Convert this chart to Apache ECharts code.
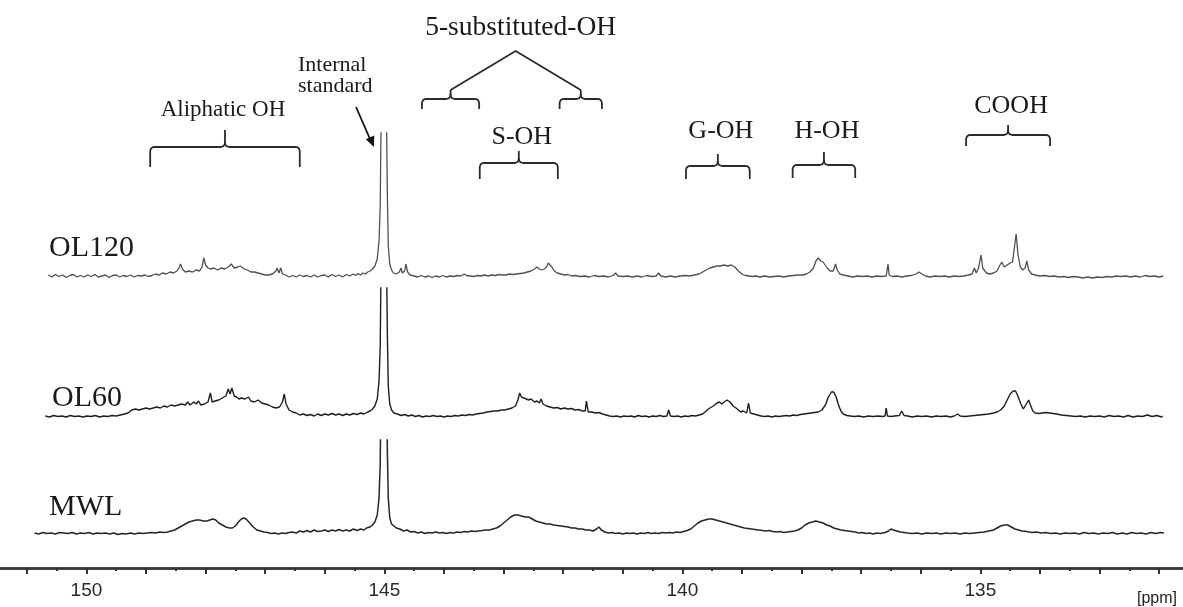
<!DOCTYPE html>
<html><head><meta charset="utf-8">
<script src="https://cdn.jsdelivr.net/npm/echarts@6/dist/echarts.min.js"></script>
<style>html,body{margin:0;padding:0;background:#fff}#c{width:1183px;height:607px}</style>
</head><body><div id="c"></div>
<script>
// ---- data: [ppm, intensity above baseline] ----
const seriesNames = ['OL120', 'OL60', 'MWL'];
const tickLabels = [150, 145, 140, 135];

const ol120 = [
[150.64,1],[150.58,-1],[150.52,1.5],[150.46,-0.5],[150.40,1],[150.34,-1.5],[150.28,0.5],[150.22,1.5],[150.16,-1],[150.10,0.5],[150.04,-1],[149.98,1],[149.92,-0.5],[149.86,1.5],[149.80,-1],[149.74,0],[149.68,1],[149.62,-1.5],[149.56,0.5],[149.50,1],[149.44,-1],[149.38,0.5],[149.32,-0.5],[149.26,1],[149.20,-1],[149.14,0.5],[149.08,0],[149.02,1],[148.96,-0.5],[148.90,0.5],[148.84,2],[148.78,1],[148.72,3],[148.66,2],[148.60,4],[148.54,3],[148.48,5],[148.44,9],[148.42,12],[148.39,7],[148.34,4],[148.28,5],[148.22,4],[148.16,6],[148.10,5],[148.06,9],[148.03,18],[148.00,11],[147.96,8],[147.92,7],[147.86,8],[147.80,6],[147.74,8],[147.68,7],[147.62,9],[147.57,12],[147.52,8],[147.46,9],[147.42,10],[147.39,12],[147.35,7],[147.30,6],[147.24,4],[147.18,4],[147.12,3],[147.06,2],[147.00,1],[146.94,1],[146.88,2],[146.82,5],[146.80,8],[146.77,3],[146.74,8],[146.71,2],[146.66,1],[146.60,-1],[146.54,0.5],[146.48,-1],[146.42,1],[146.36,-0.5],[146.30,0.5],[146.24,-1],[146.18,1],[146.12,-1],[146.06,0.5],[146.00,1],[145.94,-1],[145.88,1.5],[145.82,-0.5],[145.76,1],[145.70,-1],[145.64,1.5],[145.58,0],[145.52,2],[145.48,0.5],[145.44,2.5],[145.40,1],[145.36,3],[145.32,2],[145.28,4],[145.24,5],[145.20,7],[145.16,10],[145.12,17],[145.09,35],[145.07,70],[145.055,160],[145.05,300],[145.01,900],[144.97,300],[144.965,160],[144.95,80],[144.935,30],[144.91,12],[144.88,6],[144.85,3],[144.80,2],[144.75,4],[144.72,8],[144.70,3],[144.66,5],[144.64,12],[144.61,4],[144.57,1],[144.50,0],[144.44,-1],[144.38,0.5],[144.32,-1],[144.26,0],[144.20,-1.5],[144.14,0],[144.08,-1],[144.02,0.5],[143.96,-1],[143.90,0],[143.84,-0.5],[143.78,0.5],[143.72,0],[143.66,2],[143.62,0.5],[143.56,0],[143.50,-0.5],[143.44,0.5],[143.38,0],[143.32,1],[143.26,0],[143.20,1],[143.14,0.5],[143.08,1.5],[143.02,1],[142.96,1],[142.90,2],[142.84,1.5],[142.78,2],[142.72,2.5],[142.66,3],[142.60,4],[142.54,5],[142.48,7],[142.44,9],[142.40,7],[142.36,6],[142.32,7],[142.28,9],[142.25,13],[142.22,15],[142.19,9],[142.15,5],[142.10,3],[142.04,2],[141.98,1],[141.92,1.5],[141.86,0],[141.80,0.5],[141.72,-0.5],[141.64,0],[141.56,-1],[141.48,0.5],[141.40,-0.5],[141.32,0],[141.24,-1],[141.16,0.5],[141.12,3],[141.08,0],[141.00,-0.5],[140.92,0],[140.84,-1],[140.76,0],[140.68,-1],[140.60,0.5],[140.52,-0.5],[140.44,0],[140.40,3],[140.36,0],[140.28,-1],[140.20,0],[140.12,-1],[140.04,0],[139.96,0.5],[139.88,0],[139.80,1],[139.72,2],[139.66,4],[139.60,6],[139.54,8],[139.48,9],[139.42,10],[139.36,10],[139.30,11],[139.24,10],[139.18,11],[139.12,9],[139.06,5],[139.00,2],[138.94,0.5],[138.88,0],[138.82,-0.5],[138.76,0],[138.70,-1],[138.62,0],[138.54,-1],[138.46,-0.5],[138.38,0],[138.30,-1],[138.22,0],[138.14,0.5],[138.06,1],[137.98,1],[137.92,2],[137.86,4],[137.80,8],[137.76,15],[137.72,18],[137.68,15],[137.64,14],[137.61,15],[137.57,8],[137.52,5],[137.47,5],[137.43,12],[137.40,6],[137.36,2],[137.30,1],[137.22,0],[137.14,-1],[137.06,0],[136.98,-0.5],[136.90,0],[136.82,-1],[136.74,0],[136.66,-0.5],[136.58,0],[136.55,12],[136.53,1],[136.48,-0.5],[136.40,0],[136.32,-1],[136.24,0],[136.16,0.5],[136.08,2],[136.03,4],[135.98,2],[135.92,0],[135.84,-1],[135.76,0],[135.68,-0.5],[135.60,0],[135.52,-1],[135.44,0],[135.36,-0.5],[135.28,0],[135.20,1],[135.14,2],[135.10,8],[135.07,3],[135.03,8],[134.99,21],[134.96,8],[134.90,3],[134.84,2],[134.78,3],[134.72,5],[134.68,10],[134.64,14],[134.60,9],[134.55,11],[134.50,13],[134.46,14],[134.43,28],[134.40,42],[134.37,22],[134.33,9],[134.29,6],[134.25,8],[134.22,15],[134.19,6],[134.14,2],[134.08,1],[134.00,0],[133.92,0.5],[133.84,-0.5],[133.76,0],[133.68,-1],[133.60,-0.5],[133.52,-1.5],[133.44,-0.5],[133.36,-1],[133.28,-2],[133.20,-1],[133.12,-2],[133.04,-1],[132.96,-1.5],[132.88,-0.5],[132.80,-1],[132.72,0],[132.64,-0.5],[132.56,0],[132.48,-1],[132.40,0],[132.32,-1],[132.24,0.5],[132.16,-0.5],[132.08,0],[132.00,-1],[131.93,0]
];

const ol60 = [
[150.69,0],[150.62,-1],[150.55,0.5],[150.48,-0.5],[150.41,0],[150.34,-1],[150.27,0.5],[150.20,-0.5],[150.13,0],[150.06,-1],[149.99,0],[149.92,-0.5],[149.85,0.5],[149.78,-1],[149.71,0],[149.64,-0.5],[149.57,0.5],[149.50,0],[149.43,1],[149.36,2],[149.30,3],[149.24,6],[149.18,7],[149.12,6],[149.06,7],[149.00,8],[148.94,7],[148.88,8],[148.82,9],[148.76,8],[148.70,10],[148.64,9],[148.58,11],[148.52,10],[148.46,11],[148.40,12],[148.34,11],[148.30,14],[148.26,11],[148.20,14],[148.16,12],[148.12,15],[148.08,11],[148.02,12],[147.96,14],[147.92,23],[147.89,14],[147.84,15],[147.78,16],[147.72,18],[147.66,20],[147.62,27],[147.59,22],[147.56,28],[147.52,20],[147.48,19],[147.44,17],[147.40,18],[147.34,17],[147.28,19],[147.24,15],[147.18,14],[147.12,16],[147.06,13],[147.00,12],[146.94,11],[146.88,9],[146.82,8],[146.76,9],[146.71,14],[146.68,22],[146.65,12],[146.60,6],[146.54,4],[146.48,3],[146.42,1],[146.36,2],[146.30,0.5],[146.24,1.5],[146.18,0],[146.12,2],[146.06,0.5],[146.00,2],[145.94,1],[145.88,2.5],[145.82,1],[145.76,2],[145.70,0.5],[145.64,2],[145.58,1],[145.52,2.5],[145.46,1.5],[145.40,3],[145.34,2],[145.28,4],[145.24,5],[145.20,7],[145.16,10],[145.12,17],[145.09,35],[145.07,70],[145.055,160],[145.05,300],[145.01,900],[144.97,300],[144.965,160],[144.95,80],[144.935,30],[144.91,12],[144.88,6],[144.84,3],[144.78,2],[144.72,0.5],[144.66,1.5],[144.60,0],[144.54,1],[144.48,-0.5],[144.42,0.5],[144.36,-1],[144.30,0],[144.24,-0.5],[144.18,0.5],[144.12,-0.5],[144.06,0],[144.00,-1],[143.94,0],[143.88,-0.5],[143.82,0.5],[143.76,0],[143.70,1],[143.64,0.5],[143.58,1.5],[143.52,1],[143.46,2],[143.40,2.5],[143.34,3],[143.28,4],[143.22,4.5],[143.16,5],[143.10,5],[143.04,6],[142.98,6],[142.92,7],[142.86,8],[142.80,10],[142.76,16],[142.73,23],[142.70,19],[142.66,18],[142.62,17],[142.58,16],[142.54,17],[142.48,14],[142.44,15],[142.40,13],[142.37,17],[142.34,12],[142.28,10],[142.22,9],[142.16,8],[142.10,8.5],[142.04,7],[141.98,8],[141.92,7],[141.86,7.5],[141.80,6],[141.74,6.5],[141.68,5],[141.63,5],[141.61,15],[141.58,4],[141.52,4],[141.46,3],[141.40,3.5],[141.34,2],[141.28,1],[141.22,0],[141.16,-0.5],[141.10,0],[141.04,-1],[140.98,0],[140.92,-0.5],[140.86,0],[140.80,-1],[140.74,0.5],[140.68,-0.5],[140.62,0],[140.56,-1],[140.50,0],[140.44,-0.5],[140.38,0.5],[140.32,-0.5],[140.26,0],[140.23,6],[140.20,0],[140.14,-0.5],[140.08,0],[140.02,-1],[139.96,0],[139.90,-0.5],[139.84,0.5],[139.78,0],[139.72,1],[139.66,2],[139.60,5],[139.54,8],[139.48,10],[139.42,13],[139.38,14],[139.34,12],[139.30,14],[139.25,16],[139.20,14],[139.15,10],[139.10,8],[139.06,6],[139.02,4],[138.98,5],[138.92,3],[138.89,13],[138.86,3],[138.80,2],[138.74,1],[138.68,0],[138.62,-0.5],[138.56,0],[138.50,-1],[138.44,0],[138.38,-0.5],[138.32,0],[138.26,0.5],[138.20,0],[138.14,1],[138.08,0.5],[138.02,1.5],[137.96,2],[137.90,2.5],[137.84,3],[137.78,3.5],[137.72,4],[137.66,6],[137.60,11],[137.55,19],[137.50,24],[137.46,24],[137.42,19],[137.38,11],[137.34,5],[137.30,2],[137.24,0.5],[137.18,0],[137.12,-0.5],[137.04,0],[136.96,-1],[136.88,0],[136.80,-0.5],[136.72,0],[136.64,-0.5],[136.60,0],[136.58,8],[136.56,0],[136.50,-0.5],[136.44,0],[136.36,0.5],[136.32,5],[136.28,0.5],[136.22,0],[136.14,-1],[136.06,0],[135.98,-0.5],[135.90,0],[135.82,-1],[135.74,0],[135.66,-0.5],[135.58,0],[135.50,-1],[135.44,0],[135.38,2],[135.34,0],[135.26,-0.5],[135.18,0],[135.10,0.5],[135.02,1],[134.94,1.5],[134.86,2],[134.78,3],[134.72,4],[134.66,6],[134.60,10],[134.55,16],[134.50,22],[134.45,25],[134.41,25],[134.37,20],[134.32,12],[134.28,7],[134.25,7],[134.22,13],[134.19,16],[134.16,11],[134.12,5],[134.08,3],[134.02,2.5],[133.96,3],[133.90,3.5],[133.84,3],[133.78,2.5],[133.72,2],[133.64,1],[133.56,0.5],[133.48,0],[133.40,-0.5],[133.32,0],[133.24,-1],[133.16,0],[133.08,-0.5],[133.00,0],[132.92,-1],[132.84,0.5],[132.76,-0.5],[132.68,0],[132.60,-1],[132.52,0.5],[132.44,-1],[132.36,0],[132.28,-0.5],[132.20,1],[132.12,-0.5],[132.04,0.5],[131.96,-1],[131.94,0]
];

const mwl = [
[150.87,0],[150.80,-1],[150.73,0.5],[150.66,-0.5],[150.59,0],[150.52,-1],[150.45,0.5],[150.38,0],[150.31,-0.5],[150.24,0.5],[150.17,-1],[150.10,0],[150.03,-0.5],[149.96,0.5],[149.89,-1],[149.82,0],[149.75,-0.5],[149.68,0],[149.61,-1],[149.54,0],[149.47,-1.5],[149.40,-0.5],[149.33,-1],[149.26,0],[149.19,-1],[149.12,0],[149.05,-0.5],[148.98,0],[148.91,0.5],[148.84,0],[148.77,1],[148.70,0.5],[148.64,1],[148.58,2],[148.52,3],[148.46,5],[148.40,7],[148.34,9],[148.28,11],[148.22,12],[148.16,13],[148.10,13],[148.04,12],[147.98,12],[147.93,13],[147.88,14],[147.83,13],[147.78,10],[147.72,8],[147.66,6],[147.60,5],[147.55,5],[147.50,7],[147.45,11],[147.40,14],[147.36,15],[147.32,14],[147.26,10],[147.20,6],[147.14,3],[147.08,2],[147.02,1],[146.96,0.5],[146.90,-0.5],[146.84,0],[146.78,-1],[146.72,0],[146.66,-0.5],[146.60,0.5],[146.54,1],[146.48,0],[146.42,2],[146.36,1],[146.30,2.5],[146.24,1],[146.18,3],[146.12,1.5],[146.06,2],[146.00,3],[145.94,1.5],[145.88,3],[145.82,2],[145.76,3.5],[145.70,2],[145.64,3],[145.58,2],[145.52,4],[145.46,2.5],[145.40,4],[145.34,3],[145.30,5],[145.24,6],[145.20,8],[145.16,11],[145.12,18],[145.09,35],[145.07,70],[145.055,160],[145.05,300],[145.01,900],[144.97,300],[144.965,160],[144.95,80],[144.935,35],[144.91,15],[144.88,9],[144.85,7],[144.80,5],[144.74,4],[144.68,2],[144.62,3],[144.56,1],[144.50,1.5],[144.44,0],[144.38,1],[144.32,-0.5],[144.26,0.5],[144.20,0],[144.14,1],[144.08,0],[144.02,0.5],[143.96,-0.5],[143.90,0.5],[143.84,0],[143.78,1],[143.72,0.5],[143.66,1.5],[143.60,1],[143.54,2],[143.48,1.5],[143.42,2],[143.36,2.5],[143.30,3],[143.24,3],[143.18,4],[143.12,5],[143.06,7],[143.00,10],[142.94,13],[142.88,16],[142.82,18],[142.76,18],[142.70,17],[142.64,16],[142.58,16],[142.52,14],[142.46,12],[142.40,11],[142.34,10],[142.28,9],[142.22,9],[142.16,8],[142.10,7.5],[142.04,7],[141.98,6.5],[141.92,6],[141.86,5],[141.80,5],[141.74,4],[141.68,4],[141.62,3],[141.56,3],[141.50,2],[141.44,4],[141.40,6],[141.36,3],[141.30,1],[141.24,0],[141.18,0.5],[141.12,-0.5],[141.06,0],[141.00,-1],[140.94,0],[140.88,-0.5],[140.82,0],[140.76,-1],[140.70,0],[140.64,-0.5],[140.58,0.5],[140.52,-0.5],[140.46,0],[140.40,-0.5],[140.34,0.5],[140.28,0],[140.22,0.5],[140.16,0],[140.10,1],[140.04,0.5],[139.98,1.5],[139.92,2.5],[139.86,4],[139.80,7],[139.74,10],[139.68,12],[139.62,13],[139.56,14],[139.50,14],[139.44,13],[139.38,12],[139.32,11],[139.26,10],[139.20,9],[139.14,8],[139.08,7],[139.02,6],[138.96,5],[138.90,4.5],[138.84,4],[138.78,3.5],[138.72,3],[138.66,2.5],[138.60,2],[138.54,2.5],[138.48,1.5],[138.42,1],[138.36,1.5],[138.30,0.5],[138.24,1],[138.18,1.5],[138.12,2],[138.06,3],[138.00,5],[137.94,8],[137.88,10],[137.82,11],[137.76,12],[137.70,11],[137.64,10],[137.58,8],[137.52,7],[137.46,5],[137.40,4],[137.34,3],[137.28,2.5],[137.22,2],[137.16,1.5],[137.10,1],[137.04,0],[136.98,0.5],[136.92,-0.5],[136.86,0],[136.80,-1],[136.74,0],[136.68,-0.5],[136.60,0.5],[136.54,2],[136.50,4],[136.46,3],[136.40,2],[136.34,1],[136.28,0.5],[136.22,0],[136.14,-0.5],[136.06,0],[135.98,-1],[135.90,0],[135.82,-0.5],[135.74,0],[135.66,-1],[135.58,0],[135.50,-0.5],[135.42,0],[135.34,-1],[135.26,0],[135.18,-0.5],[135.10,0],[135.02,0.5],[134.94,1],[134.86,2],[134.78,3],[134.72,5],[134.66,7],[134.60,8],[134.54,8],[134.48,6],[134.42,4],[134.36,3],[134.30,2],[134.22,1.5],[134.14,0.5],[134.06,1],[133.98,0],[133.90,0.5],[133.82,-0.5],[133.74,0],[133.66,-1],[133.58,0],[133.50,-0.5],[133.42,0],[133.34,-1],[133.26,0.5],[133.18,-0.5],[133.10,0],[133.02,-1],[132.94,0],[132.86,-0.5],[132.78,0.5],[132.70,-1],[132.62,0],[132.54,-1],[132.46,0.5],[132.38,-0.5],[132.30,0],[132.22,-1],[132.14,0.5],[132.06,-0.5],[131.98,0.5],[131.92,0]
];

// region annotations: label, from ppm, to ppm
const regionNames = ['Aliphatic OH', 'S-OH', 'G-OH', 'H-OH', 'COOH'];
const regionFrom  = [148.93, 143.40, 139.94, 138.15, 135.24];
const regionTo    = [146.42, 142.09, 138.87, 137.10, 133.83];
const subFrom = [144.37, 142.06];
const subTo   = [143.41, 141.35];

// ---- layout ----
const XMIN = 131.60, XMAX = 151.45;
const majorTicks = [], minorTicks = [];
for (let v = 132; v <= 151; v++) majorTicks.push(v);
for (let v = 131; v <= 151; v++) minorTicks.push(v + 0.5);

const panels = [
  {top: 133, base: 276, bottom: 300},
  {top: 288, base: 416, bottom: 440},
  {top: 440, base: 533, bottom: 568}
];
const colors = ['#505050', '#1e1e1e', '#262626'];
const widths = [1.3, 1.4, 1.5];
const datasets = [ol120, ol60, mwl];

const chart = echarts.init(document.getElementById('c'), null, {renderer: 'canvas'});
const grids = [], xAxes = [], yAxes = [], series = [];
panels.forEach((p, i) => {
  grids.push({left: 0, right: 0, top: p.top, height: p.bottom - p.top});
  xAxes.push({
    type: 'value', gridIndex: i, min: XMIN, max: XMAX, inverse: true,
    show: i === 2,
    axisLine: {show: true, onZero: false, lineStyle: {color: '#3a3a3a', width: 2.5}},
    axisTick: {show: true, customValues: majorTicks, length: 6, lineStyle: {color: '#333', width: 2}},
    axisLabel: {show: true, customValues: tickLabels, fontSize: 19, color: '#2a2a2a', margin: 13, fontFamily: 'Liberation Sans'},
    splitLine: {show: false}
  });
  yAxes.push({type: 'value', gridIndex: i, min: -(p.bottom - p.base), max: p.base - p.top, show: false, splitLine: {show: false}});
  series.push({
    name: seriesNames[i], type: 'line', xAxisIndex: i, yAxisIndex: i,
    data: datasets[i], showSymbol: false, symbol: 'none', clip: true, smooth: false,
    lineStyle: {color: colors[i], width: widths[i]}, silent: true
  });
});
// minor ticks (second axis on the bottom panel)
xAxes.push({
  type: 'value', gridIndex: 2, min: XMIN, max: XMAX, inverse: true, position: 'bottom',
  axisLine: {show: true, onZero: false, lineStyle: {color: '#3a3a3a', width: 2.5}},
  axisTick: {show: true, customValues: minorTicks, length: 3, lineStyle: {color: '#333', width: 2}},
  axisLabel: {show: true, customValues: [], color: 'rgba(0,0,0,0)'}, splitLine: {show: false}
});

chart.setOption({
  animation: false,
  backgroundColor: '#fff',
  grid: grids, xAxis: xAxes, yAxis: yAxes, series: series
});

// ---- annotations ----
const X = p => chart.convertToPixel({xAxisIndex: 2}, p);
const serif = 'Liberation Serif, Times New Roman, serif';
const ink = '#2b2b2b';
function bracketPts(x1, x2, yH, yE, yT) {
  const xt = (x1 + x2) / 2;
  return [
    [[x1, yE], [x1, yH + 4], [x1 + 0.8, yH + 1.4], [x1 + 2.5, yH + 0.2], [x1 + 5, yH], [xt - 4, yH], [xt - 1.6, yH - 0.8], [xt - 0.3, yH - 2.5], [xt, yH - 5], [xt, yT]],
    [[xt, yH - 5], [xt + 0.3, yH - 2.5], [xt + 1.6, yH - 0.8], [xt + 4, yH], [x2 - 5, yH], [x2 - 2.5, yH + 0.2], [x2 - 0.8, yH + 1.4], [x2, yH + 4], [x2, yE]]
  ];
}
function br(from, to, yH, yE, yT) {
  return bracketPts(X(from), X(to), yH, yE, yT).map(pts => ({
    type: 'polyline', silent: true, shape: {points: pts},
    style: {stroke: ink, lineWidth: 1.8, fill: null, lineJoin: 'round'}
  }));
}
function txt(text, x, y, size, align) {
  return {type: 'text', silent: true, x: x, y: y,
          style: {text: text, font: `${size}px ${serif}`, fill: '#1a1a1a', align: align || 'center', verticalAlign: 'middle'}};
}
const bY = [[147, 167, 130], [163, 179, 151], [166, 179, 154], [165, 178, 152], [135, 146, 125]];
const tY = [110, 137, 131, 131, 106];
const tS = [23, 26, 26, 26, 26];
const g = [];
regionNames.forEach((n, i) => {
  g.push(...br(regionFrom[i], regionTo[i], bY[i][0], bY[i][1], bY[i][2]));
  g.push(txt(n, (X(regionFrom[i]) + X(regionTo[i])) / 2 + (i === 0 ? -2 : 3), tY[i], tS[i]));
});
// 5-substituted-OH
const tipL = (X(subFrom[0]) + X(subTo[0])) / 2, tipR = (X(subFrom[1]) + X(subTo[1])) / 2;
g.push(...br(subFrom[0], subTo[0], 99, 109, 90));
g.push(...br(subFrom[1], subTo[1], 99, 109, 90));
const apexX = (tipL + tipR) / 2;
g.push({type: 'polyline', silent: true, shape: {points: [[tipL, 90], [apexX, 51], [tipR, 90]]}, style: {stroke: ink, lineWidth: 1.8, fill: null}});
g.push(txt('5-substituted-OH', apexX + 5, 28, 27.5));
// internal standard
g.push(txt('Internal', 298, 65, 22, 'left'));
g.push(txt('standard', 298, 86, 22, 'left'));
g.push({type: 'line', silent: true, shape: {x1: 356, y1: 107, x2: 370, y2: 139}, style: {stroke: '#111', lineWidth: 1.8}});
g.push({type: 'polygon', silent: true, shape: {points: [[374, 147], [374.2, 135.6], [365.8, 139.3]]}, style: {fill: '#111'}});
// sample labels
const labY = [248, 398, 507];
const labX = [49, 52, 49];
seriesNames.forEach((n, i) => g.push(txt(n, labX[i], labY[i], 30, 'left')));
// axis unit
g.push({type: 'text', silent: true, x: 1137, y: 599, style: {text: '[ppm]', font: '16px Liberation Sans', fill: '#222', align: 'left', verticalAlign: 'middle'}});

chart.setOption({graphic: g});
</script>
</body></html>
